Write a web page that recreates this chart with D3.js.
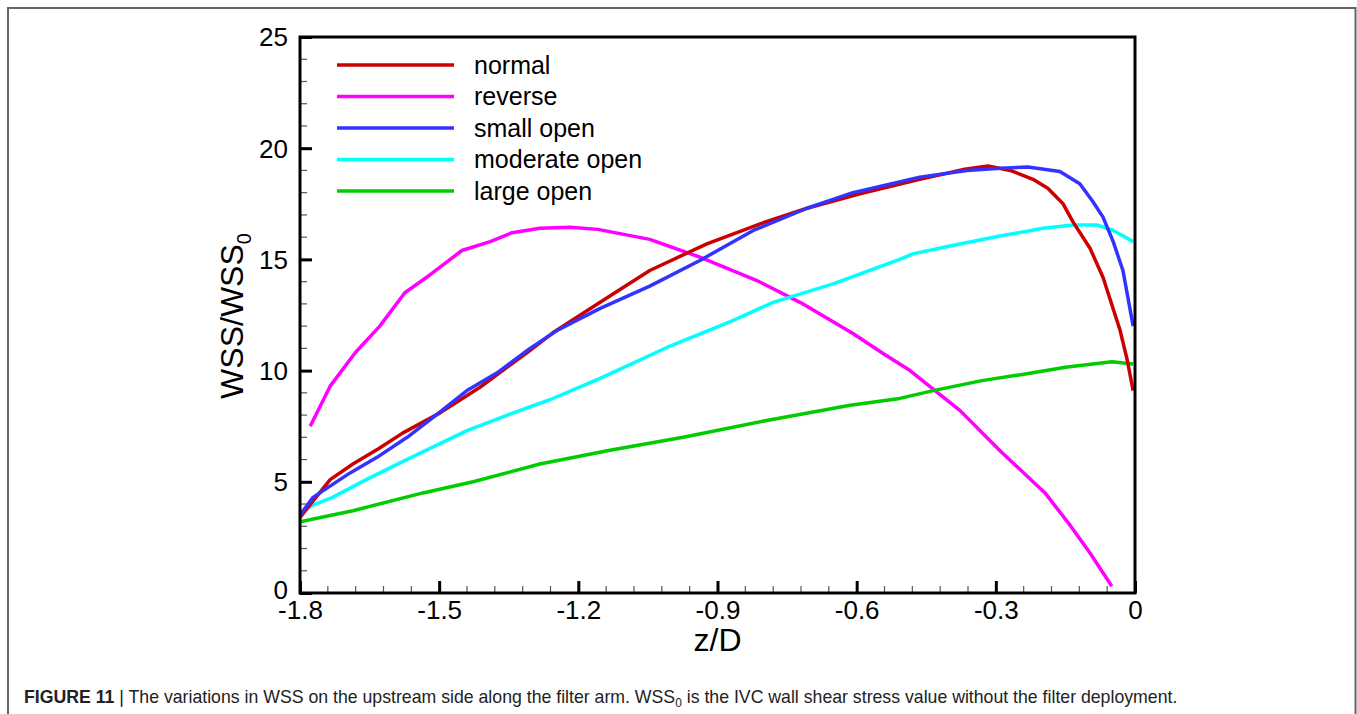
<!DOCTYPE html>
<html>
<head>
<meta charset="utf-8">
<script src="https://cdn.jsdelivr.net/npm/d3@7"></script>
<style>
  body { margin: 0; background: #fff; }
  svg text { font-family: "Liberation Sans", Arial, sans-serif; }
</style>
</head>
<body>
<div id="chart"></div>
<script>
// series names and colours
var seriesNames = ["normal", "reverse", "small open", "moderate open", "large open"]
var seriesColors = ["#cc0000", "#ff00ff", "#3333ff", "#00ffff", "#00cc00"]

// values (z/D, WSS/WSS0)
var normalZ = [-1.8, -1.735, -1.686, -1.63, -1.578, -1.498, -1.412, -1.311, -1.255, -1.153, -1.046, -0.923, -0.808, -0.707, -0.593, -0.464, -0.367, -0.317, -0.269, -0.22, -0.188, -0.155, -0.134, -0.097, -0.069, -0.032, -0.017, -0.004]
var normalV = [3.4, 5.1, 5.8, 6.5, 7.2, 8.1, 9.25, 10.8, 11.7, 13.07, 14.5, 15.7, 16.6, 17.3, 17.95, 18.6, 19.05, 19.2, 19.0, 18.6, 18.2, 17.5, 16.7, 15.5, 14.2, 11.8, 10.5, 9.1]

var reverseZ = [-1.778, -1.735, -1.681, -1.628, -1.574, -1.52, -1.451, -1.39, -1.343, -1.283, -1.218, -1.158, -1.046, -0.938, -0.815, -0.722, -0.608, -0.543, -0.485, -0.377, -0.291, -0.194, -0.14, -0.097, -0.05]
var reverseV = [7.5, 9.3, 10.8, 12.0, 13.5, 14.3, 15.4, 15.8, 16.2, 16.4, 16.45, 16.35, 15.9, 15.1, 14.05, 13.07, 11.67, 10.77, 10.0, 8.2, 6.4, 4.5, 3.05, 1.8, 0.3]

var smallZ = [-1.8, -1.772, -1.692, -1.634, -1.569, -1.513, -1.44, -1.375, -1.304, -1.246, -1.153, -1.046, -0.938, -0.823, -0.707, -0.608, -0.464, -0.362, -0.291, -0.231, -0.162, -0.119, -0.091, -0.069, -0.047, -0.026, -0.004]
var smallV = [3.5, 4.3, 5.4, 6.1, 7.0, 7.9, 9.1, 9.9, 11.0, 11.8, 12.8, 13.8, 14.95, 16.3, 17.3, 18.0, 18.7, 19.0, 19.1, 19.15, 18.95, 18.4, 17.6, 16.9, 15.8, 14.5, 12.0]

var moderateZ = [-1.8, -1.772, -1.73, -1.657, -1.57, -1.44, -1.34, -1.26, -1.153, -1.009, -0.867, -0.78, -0.651, -0.507, -0.479, -0.399, -0.291, -0.198, -0.134, -0.082, -0.047, -0.004]
var moderateV = [3.6, 3.95, 4.3, 5.1, 6.0, 7.3, 8.1, 8.7, 9.65, 11.04, 12.25, 13.07, 13.9, 15.0, 15.25, 15.6, 16.05, 16.4, 16.55, 16.55, 16.3, 15.8]

var largeZ = [-1.8, -1.686, -1.535, -1.427, -1.283, -1.132, -0.974, -0.794, -0.614, -0.507, -0.435, -0.33, -0.22, -0.15, -0.05, -0.004]
var largeV = [3.2, 3.7, 4.5, 5.0, 5.8, 6.42, 7.0, 7.76, 8.44, 8.75, 9.1, 9.55, 9.9, 10.15, 10.4, 10.3]

var xTicks = [-1.8, -1.5, -1.2, -0.9, -0.6, -0.3, 0]
var yTicks = [0, 5, 10, 15, 20, 25]

var seriesZ = [normalZ, reverseZ, smallZ, moderateZ, largeZ]
var seriesV = [normalV, reverseV, smallV, moderateV, largeV]

var width = 1357
    height = 714
    margin = {left: 300, right: 222, top: 37, bottom: 121}

var svg = d3.select("#chart")
  .append("svg")
    .attr("width", width)
    .attr("height", height)

// outer figure frame (open at the bottom edge of the crop)
svg.append("path")
  .attr("d", "M8,716 V8 H1355.5 V716")
  .attr("fill", "none")
  .attr("stroke", "#666")
  .attr("stroke-width", 2)

var x = d3.scaleLinear()
  .domain([-1.8, 0])
  .range([margin.left, width - margin.right])

var y = d3.scaleLinear()
  .domain([0, 25])
  .range([height - margin.bottom, margin.top])

var g = svg.append("g")

// minor ticks
var xMinor = d3.range(-1.8, 0.001, 0.06).map(function(d) { return +d.toFixed(2) })
var yMinor = d3.range(0, 25.001, 1)

g.selectAll(".xminor")
  .data(xMinor)
  .enter().append("line")
    .attr("x1", function(d) { return x(d) })
    .attr("x2", function(d) { return x(d) })
    .attr("y1", y(0))
    .attr("y2", y(0) - 7)
    .attr("stroke", "#555")
    .attr("stroke-width", 1.2)

g.selectAll(".yminor")
  .data(yMinor)
  .enter().append("line")
    .attr("x1", x(-1.8))
    .attr("x2", x(-1.8) + 7)
    .attr("y1", function(d) { return y(d) })
    .attr("y2", function(d) { return y(d) })
    .attr("stroke", "#555")
    .attr("stroke-width", 1.2)

// major ticks via axes, drawn inward; plain hyphen for negatives like the original
var xAxis = d3.axisBottom(x)
  .tickValues(xTicks)
  .tickSizeInner(-12)
  .tickSizeOuter(0)
  .tickPadding(8)
  .tickFormat(function(d) { return d === 0 ? "0" : d.toFixed(1) })

var yAxis = d3.axisLeft(y)
  .tickValues(yTicks)
  .tickSizeInner(-12)
  .tickSizeOuter(0)
  .tickPadding(12)

var gx = g.append("g")
  .attr("transform", "translate(0," + y(0) + ")")
  .call(xAxis)

var gy = g.append("g")
  .attr("transform", "translate(" + x(-1.8) + ",0)")
  .call(yAxis)

gx.select(".domain").remove()
gy.select(".domain").remove()
gx.selectAll(".tick line").attr("stroke", "#000").attr("stroke-width", 3)
gy.selectAll(".tick line").attr("stroke", "#000").attr("stroke-width", 3)
gx.selectAll("text").attr("font-size", 26).attr("fill", "#000").attr("dy", "0.71em")
gy.selectAll("text").attr("font-size", 26).attr("fill", "#000").attr("dy", "0.34em")
gy.selectAll(".tick text").filter(function(d) { return d === 0 }).attr("dy", "0.2em")

// series lines
var line = d3.line()
  .x(function(d) { return x(d[0]) })
  .y(function(d) { return y(d[1]) })

svg.append("clipPath").attr("id", "plotclip")
  .append("rect")
    .attr("x", x(-1.8))
    .attr("y", y(25))
    .attr("width", x(0) - x(-1.8))
    .attr("height", y(0) - y(25))

// draw order keeps blue over red etc.
var drawOrder = [1, 4, 3, 0, 2]
drawOrder.forEach(function(i) {
  var pts = seriesZ[i].map(function(z, j) { return [z, seriesV[i][j]] })
  g.append("path")
    .datum(pts)
    .attr("clip-path", "url(#plotclip)")
    .attr("fill", "none")
    .attr("stroke", seriesColors[i])
    .attr("stroke-width", 3.5)
    .attr("stroke-linejoin", "round")
    .attr("d", line)
})

// plot frame
g.append("rect")
  .attr("x", x(-1.8))
  .attr("y", y(25))
  .attr("width", x(0) - x(-1.8))
  .attr("height", y(0) - y(25))
  .attr("fill", "none")
  .attr("stroke", "#000")
  .attr("stroke-width", 3)

// legend
var legend = g.selectAll(".legend")
  .data(seriesNames)
  .enter().append("g")
    .attr("transform", function(d, i) { return "translate(0," + (65 + i * 31.5) + ")" })

legend.append("line")
  .attr("x1", 337)
  .attr("x2", 454)
  .attr("stroke", function(d, i) { return seriesColors[i] })
  .attr("stroke-width", 3.5)

legend.append("text")
  .attr("x", 474)
  .attr("dy", "0.35em")
  .attr("font-size", 25)
  .text(function(d) { return d })

// axis titles
svg.append("text")
  .attr("x", x(-0.9))
  .attr("y", 651)
  .attr("text-anchor", "middle")
  .attr("font-size", 32)
  .text("z/D")

var yt = svg.append("text")
  .attr("transform", "translate(243,316) rotate(-90)")
  .attr("text-anchor", "middle")
  .attr("font-size", 32)
yt.append("tspan").text("WSS/WSS")
yt.append("tspan").attr("font-size", 20).attr("dy", 8).text("0")

// caption
var cap = svg.append("text")
  .attr("x", 24)
  .attr("y", 703)
  .attr("font-size", 17.7)
  .attr("fill", "#222")
cap.append("tspan").attr("font-weight", "bold").text("FIGURE 11 ")
cap.append("tspan").text("| The variations in WSS on the upstream side along the filter arm. WSS")
cap.append("tspan").attr("font-size", 12).attr("dy", 4).text("0")
cap.append("tspan").attr("dy", -4).text(" is the IVC wall shear stress value without the filter deployment.")
</script>
</body>
</html>
